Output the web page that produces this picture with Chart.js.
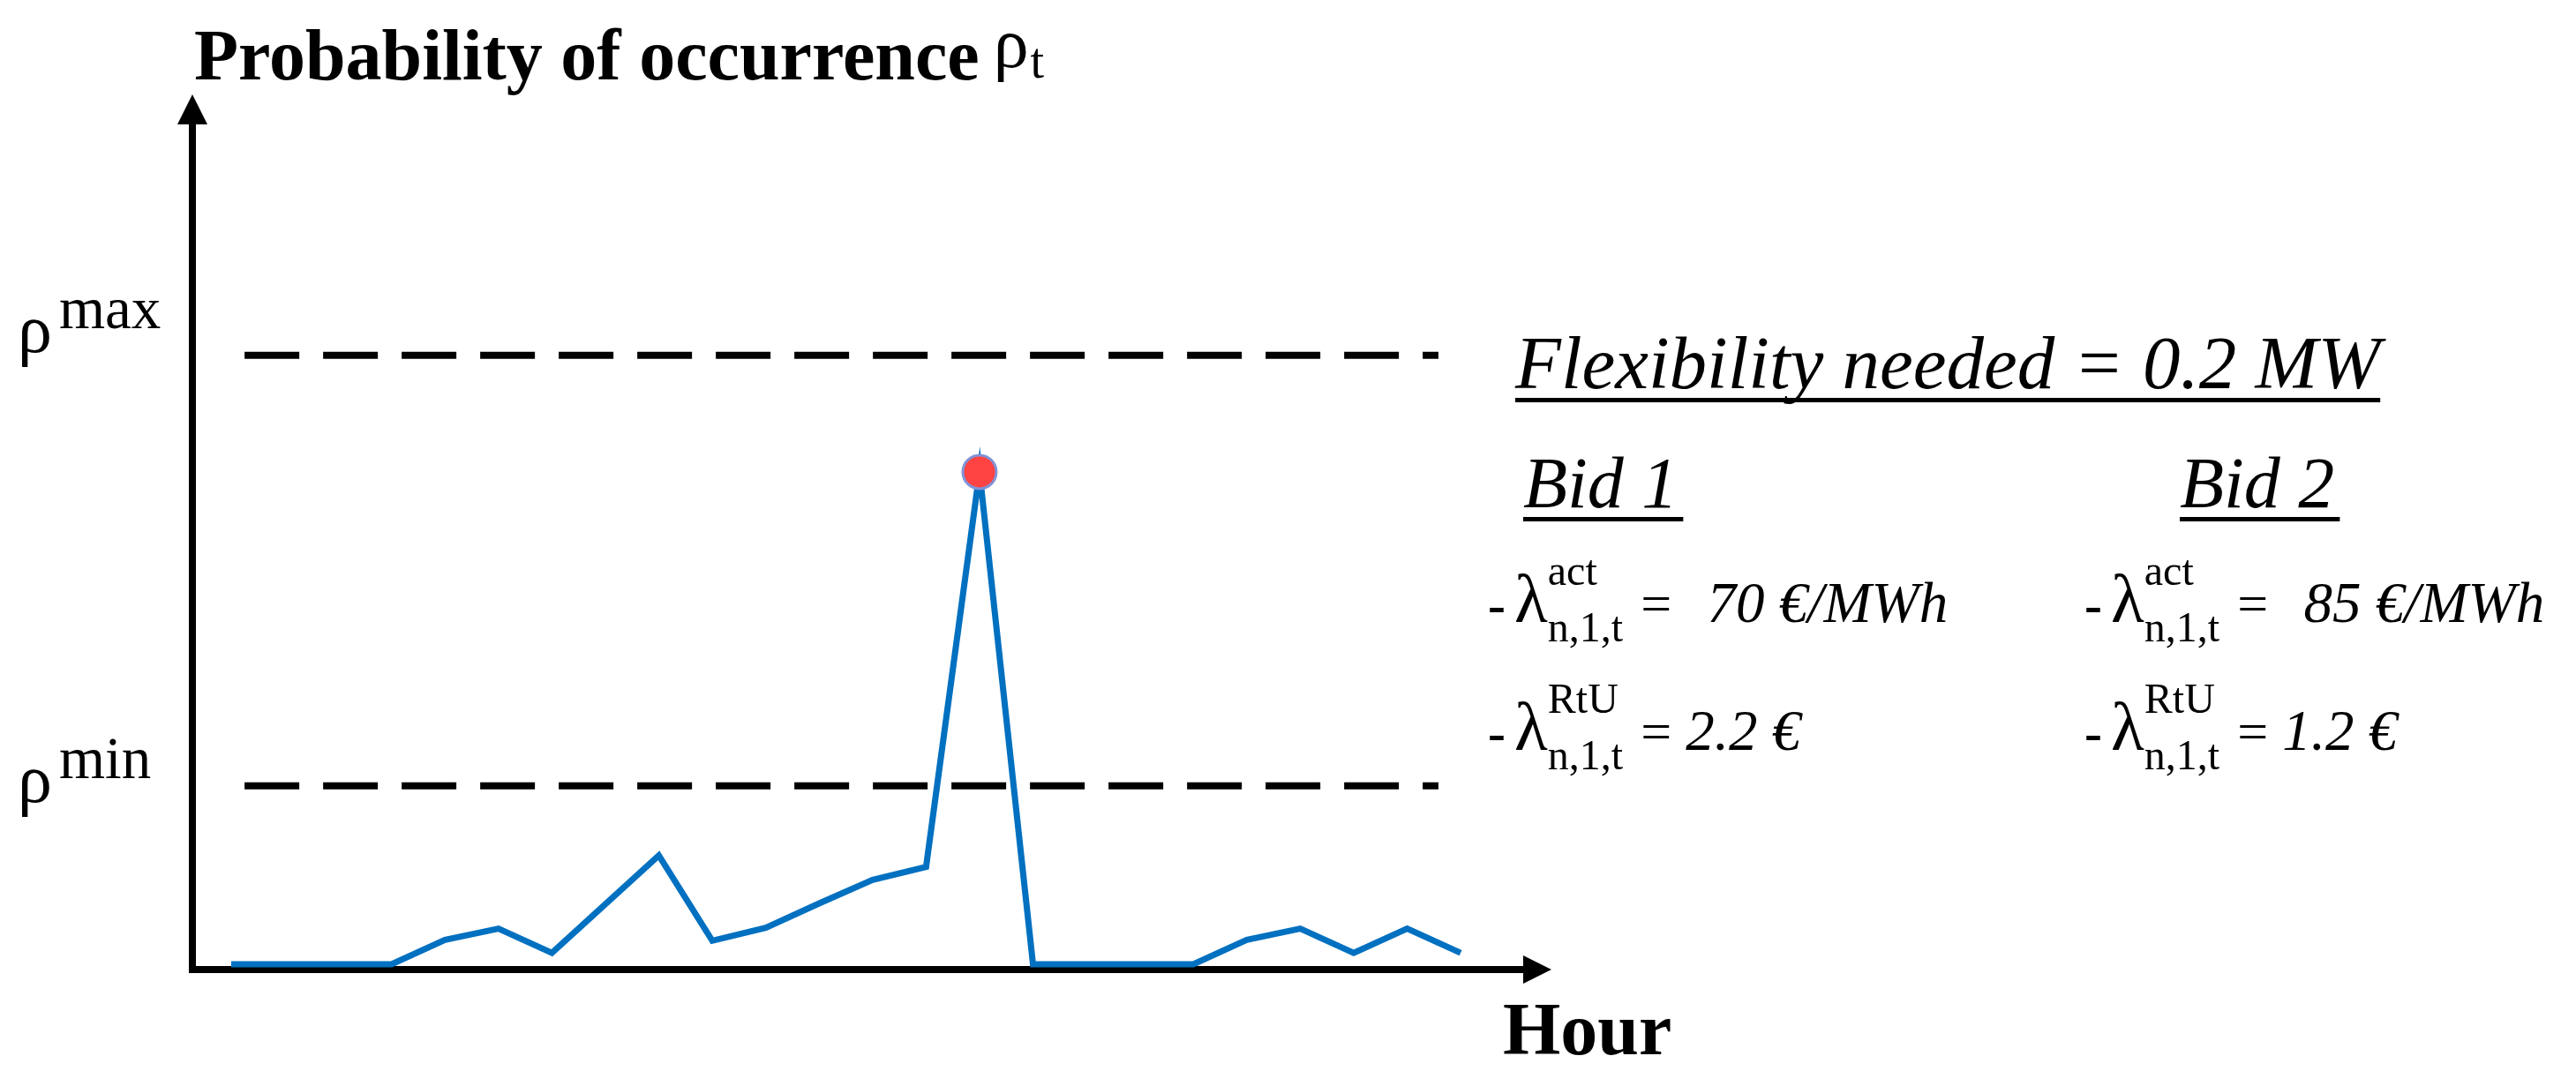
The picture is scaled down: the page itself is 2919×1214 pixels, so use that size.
<!DOCTYPE html>
<html>
<head>
<meta charset="utf-8">
<script src="https://cdn.jsdelivr.net/npm/chart.js@4/dist/chart.umd.min.js"></script>
<style>
  html, body { margin: 0; padding: 0; background: #ffffff; }
  #wrap { width: 2919px; height: 1214px; }
</style>
</head>
<body>
<div id="wrap"><canvas id="c" width="2919" height="1214"></canvas></div>
<script>
// ---------------- data ----------------
const hours = [1,2,3,4,5,6,7,8,9,10,11,12,13,14,15,16,17,18,19,20,21,22,23,24];
const probability = [0, 0, 0, 0, 0.028, 0.041, 0.013, 0.069, 0.125, 0.027, 0.042, 0.070,
                     0.097, 0.112, 0.566, 0, 0, 0, 0, 0.028, 0.041, 0.013, 0.041, 0.013];
const rhoMax = 0.70;
const rhoMin = 0.205;
const thresholdSpan = [1.25, 23.585];   // hour range covered by the dashed threshold lines
const titleText = "Probability of occurrence";
const xAxisTitle = "Hour";
const flexText = "Flexibility needed = 0.2 MW";
const bids = [
  { name: "Bid 1", act: "70 €/MWh", rtu: "2.2 €" },
  { name: "Bid 2", act: "85 €/MWh", rtu: "1.2 €" }
];

// ---------------- chart ----------------
const peakValue = Math.max(...probability);
const lineData = hours.map((h, i) => ({ x: h, y: probability[i] }));
const thrData = v => thresholdSpan.map(x => ({ x: x, y: v }));

const SERIF = '"Liberation Serif", "Times New Roman", serif';

function txt(ctx, s, x, y, font) {
  ctx.font = font;
  ctx.fillText(s, x, y);
  return ctx.measureText(s).width;
}

const decorPlugin = {
  id: 'decor',
  beforeDatasetsDraw(chart) {
    const ctx = chart.ctx, a = chart.chartArea;
    ctx.save();
    ctx.strokeStyle = '#000';
    ctx.fillStyle = '#000';
    ctx.lineWidth = 8;
    // y axis
    ctx.beginPath();
    ctx.moveTo(a.left, a.bottom + 4);
    ctx.lineTo(a.left, a.top + 30);
    ctx.stroke();
    ctx.beginPath();
    ctx.moveTo(a.left, a.top);
    ctx.lineTo(a.left - 17, a.top + 34);
    ctx.lineTo(a.left + 17, a.top + 34);
    ctx.closePath();
    ctx.fill();
    // x axis
    ctx.beginPath();
    ctx.moveTo(a.left - 4, a.bottom);
    ctx.lineTo(a.right - 30, a.bottom);
    ctx.stroke();
    ctx.beginPath();
    ctx.moveTo(a.right, a.bottom);
    ctx.lineTo(a.right - 32, a.bottom - 16);
    ctx.lineTo(a.right - 32, a.bottom + 16);
    ctx.closePath();
    ctx.fill();
    ctx.restore();
  },
  afterDraw(chart) {
    const ctx = chart.ctx, a = chart.chartArea;
    const ys = chart.scales.y;
    ctx.save();
    ctx.fillStyle = '#000';
    ctx.textBaseline = 'alphabetic';
    ctx.textAlign = 'left';

    // title
    const tw = txt(ctx, titleText, a.left + 2, 90, 'bold 82px ' + SERIF);
    const rx = a.left + 2 + tw + 16;
    const rw = txt(ctx, 'ρ', rx, 76, '80px ' + SERIF);
    txt(ctx, 't', rx + rw + 2, 88, '56px ' + SERIF);

    // rho labels
    const yMaxPix = ys.getPixelForValue(rhoMax);
    const yMinPix = ys.getPixelForValue(rhoMin);
    txt(ctx, 'ρ', 20, yMaxPix - 4, '78px ' + SERIF);
    txt(ctx, 'max', 67, yMaxPix - 31, '67px ' + SERIF);
    txt(ctx, 'ρ', 20, yMinPix + 18, '78px ' + SERIF);
    txt(ctx, 'min', 67, yMinPix - 9, '67px ' + SERIF);

    // x axis title
    txt(ctx, xAxisTitle, 1703, 1195, 'bold 84px ' + SERIF);

    // flexibility line
    const fx = 1717, fy = 440;
    const fw = txt(ctx, flexText, fx, fy, 'italic 85px ' + SERIF);
    ctx.fillRect(fx, fy + 11, fw, 5);

    // bids
    const colX = [1716, 2392];
    const bidX = [1726, 2470];
    const rowY = [705, 850];
    bids.forEach((b, i) => {
      const bw = txt(ctx, b.name, bidX[i], 575, 'italic 82px ' + SERIF);
      ctx.fillRect(bidX[i], 586, bw + 6, 5);
      const lx = colX[i];
      const rows = [['act', b.act], ['RtU', b.rtu]];
      rows.forEach((r, k) => {
        const by = rowY[k];
        txt(ctx, '-', lx - 30, by, 'bold 60px ' + SERIF);
        const lw = txt(ctx, 'λ', lx, by, '78px ' + SERIF);
        const supW = txt(ctx, r[0], lx + lw, by - 42, '48px ' + SERIF);
        const subW = txt(ctx, 'n,1,t', lx + lw, by + 22, '48px ' + SERIF);
        const ex = lx + lw + Math.max(supW, subW) + 20;
        const ew = txt(ctx, '=', ex, by, '62px ' + SERIF);
        txt(ctx, (k === 0 ? '  ' : ' ') + r[1], ex + ew + (k === 0 ? 8 : 0), by, 'italic 65px ' + SERIF);
      });
    });
    ctx.restore();
  }
};

new Chart(document.getElementById('c'), {
  type: 'line',
  data: {
    datasets: [
      {
        label: 'Probability of occurrence',
        data: lineData,
        borderColor: '#0070C0',
        borderWidth: 7,
        tension: 0,
        fill: false,
        pointRadius: ctx => (ctx.raw && ctx.raw.y === peakValue ? 19 : 0),
        pointBackgroundColor: '#FF4343',
        pointBorderColor: '#7F93D6',
        pointBorderWidth: 3,
        pointHoverRadius: 0,
        order: 0
      },
      {
        label: 'rho max',
        data: thrData(rhoMax),
        borderColor: '#000',
        borderWidth: 8,
        borderDash: [62, 27],
        pointRadius: 0,
        order: 1
      },
      {
        label: 'rho min',
        data: thrData(rhoMin),
        borderColor: '#000',
        borderWidth: 8,
        borderDash: [62, 27],
        pointRadius: 0,
        order: 1
      }
    ]
  },
  options: {
    responsive: false,
    animation: false,
    devicePixelRatio: 1,
    layout: { padding: { left: 218, right: 1161, top: 107, bottom: 115 } },
    plugins: { legend: { display: false }, tooltip: { enabled: false } },
    scales: {
      x: { type: 'linear', display: false, min: 0.2736, max: 25.699 },
      y: { type: 'linear', display: false, min: -0.0061, max: 1.0 }
    },
    elements: { line: { borderCapStyle: 'butt', borderJoinStyle: 'miter' } }
  },
  plugins: [decorPlugin]
});
</script>
</body>
</html>
